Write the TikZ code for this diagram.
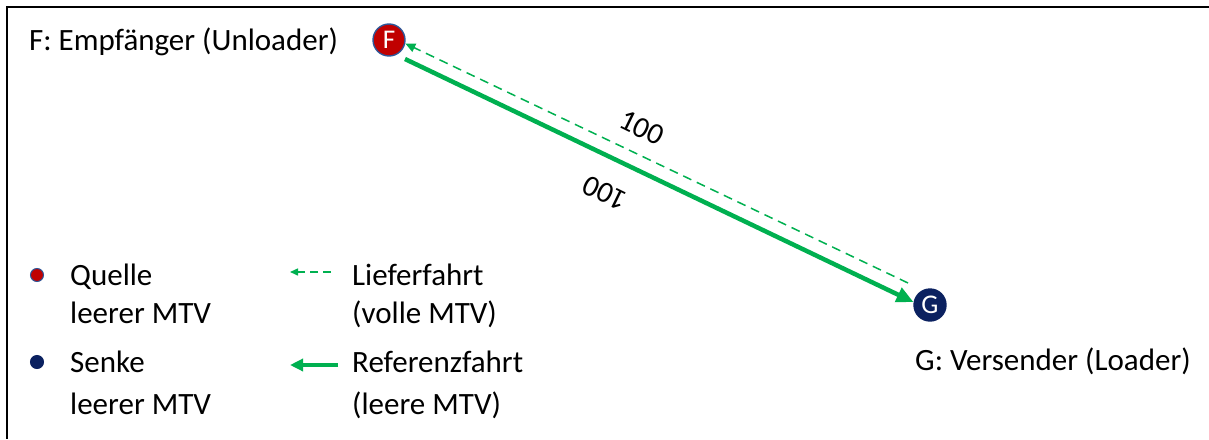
\documentclass[tikz,border=0pt]{standalone}
\usepackage{fontspec}
\setmainfont{Carlito}
\usetikzlibrary{arrows.meta,calc}
\definecolor{tgreen}{HTML}{00B050}
\definecolor{tred}{HTML}{C00000}
\definecolor{tnavy}{HTML}{0B2160}
\definecolor{tring}{HTML}{2F5597}
\tikzset{
  lbl/.style={font=\fontsize{31}{36}\selectfont, inner sep=0pt, anchor=base west},
  nodecirc/.style={circle, minimum size=32pt, inner sep=0pt, line width=1.4pt, text=white, font=\fontsize{27}{30}\selectfont},
  ref/.style={draw=tgreen, line width=4.5pt, -{Triangle[length=17pt,width=15pt]}},
  del/.style={draw=tgreen, line width=1.5pt, dash pattern=on 9pt off 6pt, -{Triangle[length=10pt,width=9pt]}},
  num/.style={font=\fontsize{30}{34}\selectfont, inner sep=0pt},
  ldot/.style={circle, minimum size=13pt, inner sep=0pt, line width=1pt}
}
\begin{document}
\begin{tikzpicture}[x=1pt,y=-1pt]
\useasboundingbox (0,0) rectangle (1209,439);
\draw[line width=2pt] (1209,7) -- (7,7) -- (7,439);

\node[nodecirc, fill=tred, draw=tring] (F) at (389,40) {F};
\node[nodecirc, fill=tnavy, draw=tnavy] (G) at (930,305) {G};

\node[lbl] (Flab) at (29,50) {F: Empfänger (Unloader)};
\node[lbl] (Glab) at (915,370) {G: Versender (Loader)};

\draw[ref] ($(F)+(16,19)$) -- (G.170);
\draw[del] ($(G)+(-22,-22)$) -- (F.-12);

\node[num, rotate=-26] (n1) at (642,128) {100};
\node[num, rotate=154] (n2) at (605,193) {100};

% legend
\node[ldot, fill=tred, draw=tring] (d1) at (37,275) {};
\node[ldot, fill=tnavy, draw=tnavy] (d2) at (37,362) {};
\node[lbl] (q1) at (70,285) {Quelle};
\node[lbl] (q2) at (70,323) {leerer MTV};
\node[lbl] (s1) at (70,372) {Senke};
\node[lbl] (s2) at (70,414) {leerer MTV};

\coordinate (a1s) at (331,272);
\coordinate (a1e) at (290,272);
\coordinate (a2s) at (338,365);
\coordinate (a2e) at (290,365);
\draw[del, dash pattern=on 8pt off 5pt, -{Triangle[length=8pt,width=7pt]}] (a1s) -- (a1e);
\draw[ref, line width=3.5pt, -{Triangle[length=13pt,width=12pt]}] (a2s) -- (a2e);

\node[lbl] (l1) at (352,285) {Lieferfahrt};
\node[lbl] (l2) at (352,323) {(volle MTV)};
\node[lbl] (r1) at (352,372) {Referenzfahrt};
\node[lbl] (r2) at (352,414) {(leere MTV)};
\end{tikzpicture}
\end{document}
